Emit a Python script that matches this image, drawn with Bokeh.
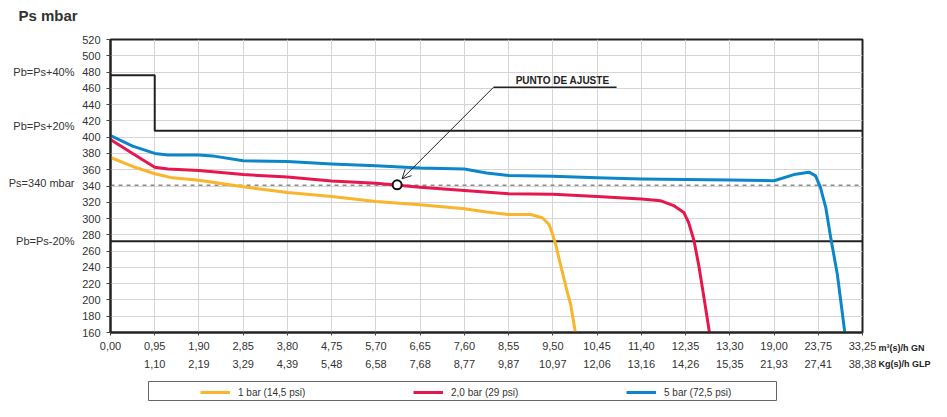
from bokeh.plotting import figure
from bokeh.layouts import row, column
from bokeh.models import (Range1d, FixedTicker, LinearAxis, Legend, LegendItem,
                          Arrow, OpenHead)
from bokeh.core.properties import value
from bokeh.embed import file_html
from bokeh.resources import INLINE

FONT = "Liberation Sans"

# ---- texts ----
title_text = "Ps  mbar"
unit_gn = "m³(s)/h GN"
unit_glp = "Kg(s)/h GLP"

# ---- axis categories (equally spaced tick positions) ----
x_tick_pos = list(range(18))
x_labels_gn = ["0,00", "0,95", "1,90", "2,85", "3,80", "4,75", "5,70", "6,65", "7,60",
               "8,55", "9,50", "10,45", "11,40", "12,35", "13,30", "19,00", "23,75", "33,25"]
x_labels_glp = ["", "1,10", "2,19", "3,29", "4,39", "5,48", "6,58", "7,68", "8,77",
                "9,87", "10,97", "12,06", "13,16", "14,26", "15,35", "21,93", "27,41", "38,38"]
y_ticks = [160, 180, 200, 220, 240, 260, 280, 300, 320, 340, 360, 380, 400, 420, 440,
           460, 480, 500, 520]

# ---- series (x in tick-position units, y in mbar) ----
bar1_x = [0, 0.5, 1, 1.4, 2, 3, 4, 5, 6, 7, 8, 8.5, 9, 9.5, 9.76, 9.91, 9.98, 10.06,
          10.17, 10.32, 10.4, 10.51]
bar1_y = [375, 364, 355, 350, 347, 339, 332, 327, 321, 317, 312, 308, 305, 305, 301,
          293, 283, 269, 244, 211, 195, 160]

bar2_x = [0, 0.5, 1, 1.3, 2, 3, 4, 5, 6, 7, 8, 9, 10, 11, 12, 12.43, 12.73, 12.96,
          13.07, 13.19, 13.3, 13.41, 13.54]
bar2_y = [397, 380, 363, 361, 359, 354, 351, 346, 343.5, 338.5, 334.5, 330.5, 330,
          327, 324, 322, 316, 307.5, 295, 273, 242, 205, 160]

bar5_x = [0, 0.5, 1, 1.3, 2, 2.3, 3, 4, 5, 6, 7, 8, 8.5, 9, 10, 11, 12, 13, 14, 15,
          15.45, 15.79, 15.94, 16.05, 16.17, 16.28, 16.43, 16.6]
bar5_y = [402, 389, 380, 378, 378, 377, 371, 370, 367, 365, 362, 361, 356, 353, 352,
          350, 348.5, 348, 347.5, 346.5, 354, 357, 352.5, 338, 313.5, 277, 232, 160]

series_x = [bar1_x, bar2_x, bar5_x]
series_y = [bar1_y, bar2_y, bar5_y]
series_labels = ["1 bar (14,5 psi)", "2,0 bar (29 psi)", "5 bar (72,5 psi)"]
series_colors = ["#F9B52B", "#E6174F", "#0B87C9"]

# ---- reference lines ----
pb40_x = [0, 1, 1, 17]
pb40_y = [476, 476, 408, 408]
pbm20_x = [0, 17]
pbm20_y = [272, 272]
ps340_x = [0, 17]
ps340_y = [341, 341]

side_texts = ["Pb=Ps+40%", "Pb=Ps+20%", "Ps=340 mbar", "Pb=Ps-20%"]
side_y = [480, 414, 344, 272]

# ---- setting-point annotation ----
punto_x, punto_y = 6.48, 341.5
arrow_start = (8.66, 461.4)
arrow_end = (6.59, 348.8)
leader_end_x = 11.44
punto_text_x, punto_text_y = 9.16, 470


def bare(fig):
    fig.grid.visible = False
    fig.title.visible = False
    return fig


# =================== title strip ===================
top = bare(figure(width=931, height=26, x_range=Range1d(0, 931), y_range=Range1d(26, 0),
                  output_backend="svg", toolbar_location=None,
                  x_axis_location=None, y_axis_location=None, min_border=0,
                  outline_line_color=None, background_fill_color="white",
                  border_fill_color="white"))
top.text([18], [15], text=[title_text], text_font=value(FONT), text_font_size="15px",
         text_font_style="bold", text_color="#333333", text_align="left",
         text_baseline="middle")

# =================== main chart ===================
p = figure(width=876, height=354, x_range=Range1d(0, 17), y_range=Range1d(160, 520),
           output_backend="svg", toolbar_location=None,
           min_border_left=110, min_border_right=14, min_border_top=13,
           min_border_bottom=48, background_fill_color="white", border_fill_color="white")
p.title.visible = False
p.outline_line_color = "#222222"
p.outline_line_width = 2

xt = FixedTicker(ticks=x_tick_pos)
yt = FixedTicker(ticks=y_ticks)
p.xaxis.ticker = xt
p.yaxis.ticker = yt
p.xgrid.ticker = xt
p.ygrid.ticker = yt
p.grid.grid_line_color = "#d5d5d5"
p.grid.grid_line_width = 1

for ax in (p.xaxis[0], p.yaxis[0]):
    ax.axis_line_color = "#222222"
    ax.axis_line_width = 2
    ax.major_tick_line_color = "#444444"
    ax.major_tick_in = 0
    ax.minor_tick_line_color = None
    ax.major_label_text_font = FONT
    ax.major_label_text_font_size = "11px"
    ax.major_label_text_color = "#333333"

p.xaxis.major_tick_out = 3
p.xaxis.major_label_standoff = 6
p.xaxis.major_label_overrides = {i: s for i, s in zip(x_tick_pos, x_labels_gn)}
p.yaxis.major_tick_out = 4
p.yaxis.major_label_standoff = 6

ax2 = LinearAxis(ticker=FixedTicker(ticks=x_tick_pos),
                 major_label_overrides={i: s for i, s in zip(x_tick_pos, x_labels_glp)},
                 axis_line_color=None, major_tick_line_color=None, major_tick_out=0,
                 major_tick_in=0, minor_tick_line_color=None, minor_tick_out=0,
                 major_label_standoff=7,
                 major_label_text_font=FONT, major_label_text_font_size="11px",
                 major_label_text_color="#333333")
p.add_layout(ax2, "below")

side_axis = LinearAxis(ticker=FixedTicker(ticks=side_y),
                       major_label_overrides={v: t for v, t in zip(side_y, side_texts)},
                       axis_line_color=None, major_tick_line_color=None, major_tick_out=0,
                       major_tick_in=0, minor_tick_line_color=None, minor_tick_out=0,
                       major_label_standoff=5,
                       major_label_text_font=FONT, major_label_text_font_size="11px",
                       major_label_text_color="#333333")
p.add_layout(side_axis, "left")

# reference lines
p.line(ps340_x, ps340_y, line_color="#8a8a8a", line_width=1.5, line_dash="4 4")
p.line(pb40_x, pb40_y, line_color="#222222", line_width=2)
p.line(pbm20_x, pbm20_y, line_color="#222222", line_width=2)

# curves
for xs, ys, c in zip(series_x, series_y, series_colors):
    p.line(xs, ys, line_color=c, line_width=3, line_join="round", line_cap="round")

# annotation
p.line([arrow_start[0], leader_end_x], [arrow_start[1], arrow_start[1]],
       line_color="#222222", line_width=1.5)
p.add_layout(Arrow(end=OpenHead(size=9, line_width=1, line_color="#222222"),
                   x_start=arrow_start[0], y_start=arrow_start[1],
                   x_end=arrow_end[0], y_end=arrow_end[1],
                   line_width=1, line_color="#222222"))
p.scatter([punto_x], [punto_y], marker="circle", size=9, fill_color="white",
          line_color="#111111", line_width=2)
p.text([punto_text_x], [punto_text_y], text=["PUNTO DE AJUSTE"],
       text_font=value(FONT), text_font_size="10px", text_font_style="bold",
       text_color="#222222", text_align="left", text_baseline="middle")

# =================== unit captions right of the x axes ===================
side = figure(width=55, height=354, x_range=Range1d(0, 55), y_range=Range1d(0, 1),
              output_backend="svg", toolbar_location=None, y_axis_location=None,
              min_border_left=0, min_border_right=0, min_border_top=13,
              min_border_bottom=48, outline_line_color=None,
              background_fill_color="white", border_fill_color="white")
bare(side)
u1 = side.xaxis[0]
u1.ticker = FixedTicker(ticks=[25])
u1.major_label_overrides = {25: unit_gn}
u2 = LinearAxis(ticker=FixedTicker(ticks=[28]), major_label_overrides={28: unit_glp})
side.add_layout(u2, "below")
for ax, so, tout in ((u1, 7, 3), (u2, 3, 0)):
    ax.axis_line_color = None
    ax.major_tick_line_color = None
    ax.minor_tick_line_color = None
    ax.major_tick_out = tout
    ax.major_tick_in = 0
    ax.minor_tick_out = 0
    ax.major_label_standoff = so
    ax.major_label_text_font = FONT
    ax.major_label_text_font_size = "9px"
    ax.major_label_text_font_style = "bold"
    ax.major_label_text_color = "#222222"

# =================== legend strip ===================
leg = bare(figure(width=931, height=21, x_range=Range1d(0, 1), y_range=Range1d(0, 1),
                  output_backend="svg", toolbar_location=None,
                  x_axis_location=None, y_axis_location=None,
                  min_border_left=148, min_border_right=155, min_border_top=1,
                  min_border_bottom=0, outline_line_color="#666666", outline_line_width=1,
                  background_fill_color="white", border_fill_color="white"))
# same series drawn again (outside this strip's ranges, so only their legend samples show)
leg_renderers = [leg.line(xs, ys, line_color=c, line_width=3)
                 for xs, ys, c in zip(series_x, series_y, series_colors)]
legend = Legend(items=[LegendItem(label=l, renderers=[r])
                       for l, r in zip(series_labels, leg_renderers)],
                orientation="horizontal", location=(52, 3),
                border_line_color=None, background_fill_alpha=0, padding=0, margin=0,
                spacing=35, glyph_width=30, glyph_height=12, label_height=12,
                label_standoff=8, label_width=140,
                label_text_font=FONT, label_text_font_size="10px",
                label_text_color="#333333")
leg.add_layout(legend, "center")

layout = column(row(top, spacing=0), row(p, side, spacing=0), row(leg, spacing=0),
                spacing=0)

open("out.html", "w").write(file_html(layout, INLINE))
